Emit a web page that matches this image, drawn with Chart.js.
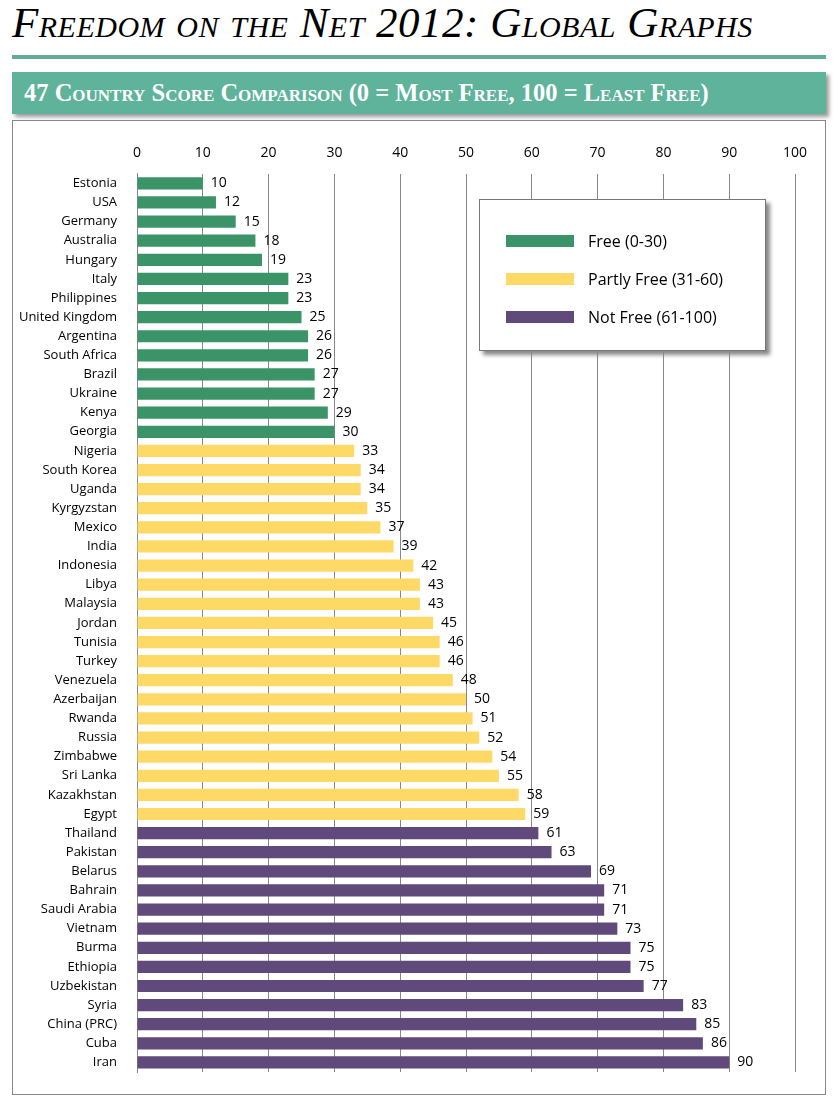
<!DOCTYPE html>
<html><head><meta charset="utf-8">
<script src="https://cdn.jsdelivr.net/npm/chart.js@4"></script>
<style>
body{margin:0;width:838px;height:1100px;background:#fff;position:relative;font-family:"Liberation Serif",serif;overflow:hidden}
#titulo{position:absolute;left:12px;top:-2px;font-size:43px;font-style:italic;font-variant:small-caps;color:#000;letter-spacing:0.5px}
#linha{position:absolute;left:12px;top:55px;width:814px;height:4px;background:#5fae95}
#faixa{position:absolute;left:12px;top:72px;width:814px;height:42px;background:#5fb39b;box-shadow:3px 3px 4px #999;color:#fff;font-size:24.5px;font-variant:small-caps;font-weight:bold;line-height:42px;padding-left:12px;box-sizing:border-box}
#caixa{position:absolute;left:12px;top:120px;width:814px;height:975px;border:1px solid #888;box-sizing:border-box}
#legenda{position:absolute;left:479px;top:199px;width:287px;height:152px;background:#fff;border:1px solid #777;box-shadow:4px 4px 4px #888;box-sizing:border-box;font-family:"Open Sans",sans-serif;font-size:16px}
.item{position:absolute;left:26px;display:flex;align-items:center}
.item span{display:inline-block;width:68px;height:12px;margin-right:14px}
</style></head><body>
<div id="titulo">Freedom on the Net 2012: Global Graphs</div>
<div id="linha"></div>
<div id="faixa">47 Country Score Comparison (0 = Most Free, 100 = Least Free)</div>
<div id="caixa"><canvas id="grafico"></canvas></div>
<div id="legenda"></div>
<script>
// Dados
const paises = ["Estonia","USA","Germany","Australia","Hungary","Italy","Philippines","United Kingdom","Argentina","South Africa","Brazil","Ukraine","Kenya","Georgia","Nigeria","South Korea","Uganda","Kyrgyzstan","Mexico","India","Indonesia","Libya","Malaysia","Jordan","Tunisia","Turkey","Venezuela","Azerbaijan","Rwanda","Russia","Zimbabwe","Sri Lanka","Kazakhstan","Egypt","Thailand","Pakistan","Belarus","Bahrain","Saudi Arabia","Vietnam","Burma","Ethiopia","Uzbekistan","Syria","China (PRC)","Cuba","Iran"];
const pontuacoes = [10,12,15,18,19,23,23,25,26,26,27,27,29,30,33,34,34,35,37,39,42,43,43,45,46,46,48,50,51,52,54,55,58,59,61,63,69,71,71,73,75,75,77,83,85,86,90];
const categorias = ["Free (0-30)","Partly Free (31-60)","Not Free (61-100)"];
const cores = ["#3a9467","#ffd966","#604a7b"];

function corDaPontuacao(p) {
    if (p <= 30) return cores[0];
    if (p <= 60) return cores[1];
    return cores[2];
}

// Legenda em HTML
const legenda = document.getElementById('legenda');
categorias.forEach((c, i) => {
    const d = document.createElement('div');
    d.className = 'item';
    d.style.top = (30 + i * 38) + 'px';
    d.innerHTML = '<span style="background:' + cores[i] + '"></span>' + c;
    legenda.appendChild(d);
});

// Rótulos dos valores
const rotulos = {
    id: 'rotulos',
    afterDatasetsDraw(chart) {
        const ctx = chart.ctx;
        ctx.save();
        ctx.font = '14px "Open Sans", sans-serif';
        ctx.fillStyle = '#000';
        ctx.textBaseline = 'middle';
        chart.getDatasetMeta(0).data.forEach((bar, i) => {
            ctx.fillText(pontuacoes[i], bar.x + 8, bar.y);
        });
        ctx.restore();
    }
};

const canvas = document.getElementById('grafico');
canvas.width = 812; canvas.height = 973;
new Chart(canvas, {
    type: 'bar',
    data: {
        labels: paises,
        datasets: [{
            data: pontuacoes,
            backgroundColor: pontuacoes.map(corDaPontuacao),
            barPercentage: 0.64,
            categoryPercentage: 1
        }]
    },
    options: {
        indexAxis: 'y',
        responsive: false,
        animation: false,
        layout: { padding: { top: 12, right: 30, bottom: 22, left: 0 } },
        plugins: { legend: { display: false }, tooltip: { enabled: false } },
        scales: {
            x: {
                position: 'top', min: 0, max: 100,
                ticks: { stepSize: 10, color: '#000', font: { family: 'Open Sans', size: 14 }, padding: 12 },
                grid: { color: '#888', drawTicks: false },
                border: { display: false }
            },
            y: {
                afterFit(s) { s.width = 124; },
                ticks: { color: '#000', font: { family: 'Open Sans', size: 13 }, padding: 12 },
                grid: { display: false },
                border: { color: '#888' }
            }
        }
    },
    plugins: [rotulos]
});
</script>
</body></html>
